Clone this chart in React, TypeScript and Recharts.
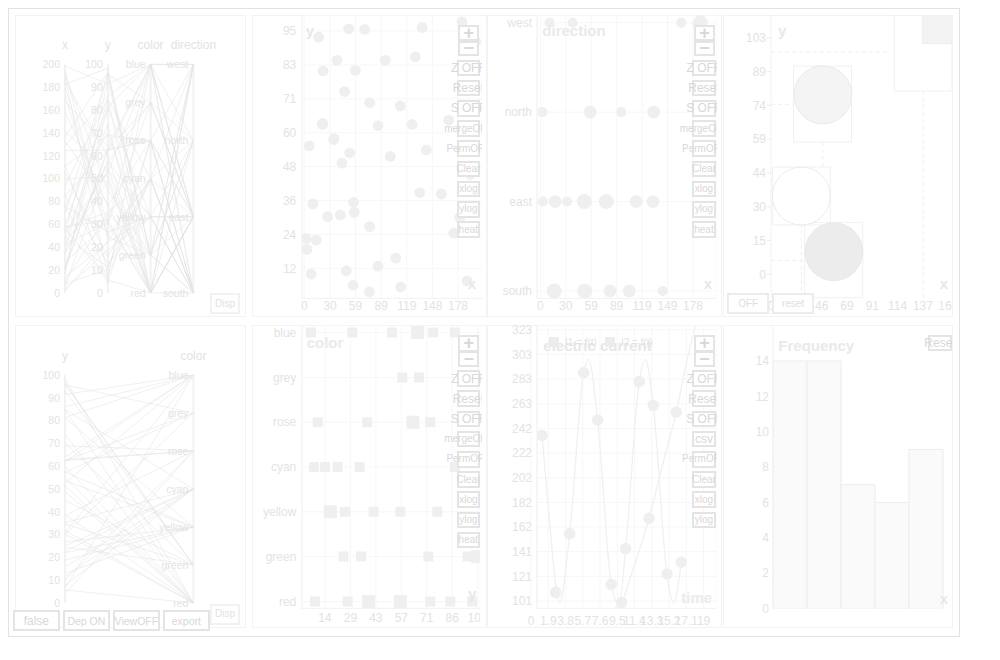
import React from "react";
import {
  Bar,
  CartesianGrid,
  ComposedChart,
  Line,
  LineChart,
  ReferenceArea,
  ReferenceDot,
  ReferenceLine,
  Scatter,
  ScatterChart,
  XAxis,
  YAxis,
  ZAxis,
} from "recharts";

const pointX = [
  182.6, 51.4, 69.9, 136.3, 16.6, 198.5, 37.8, 93.8, 128.6, 21.6, 59.1, 46.7, 75.7, 111.2, 21.2, 85.3, 124.7,
  167.2, 5.8, 34.0, 52.5, 141.3, 99.6, 43.6, 133.6, 158.7, 10.0, 57.1, 57.9, 41.7, 27.0, 75.7, 173.0, 2.3, 13.9,
  3.1, 105.8, 85.3, 8.1, 48.6, 188.4, 56.4, 111.6, 75.3, 185, 192, 180, 195, 21.0, 34.5,
];
const pointY = [
  98.3, 95.9, 95.7, 96.4, 93.0, 91.5, 84.9, 84.9, 86.1, 81.2, 81.4, 74.0, 70.1, 69.0, 62.9, 62.1, 62.5, 64.0, 55.0,
  57.2, 52.6, 53.6, 51.3, 49.0, 38.7, 38.2, 34.7, 35.3, 31.8, 30.9, 30.3, 26.8, 24.5, 22.7, 22.1, 18.8, 15.8, 13.0,
  10.2, 11.4, 7.8, 6.3, 5.7, 4.0, 60, 45, 30, 25, 62.5, 57.5,
];
const pointColor = [
  "red", "green", "grey", "green", "green", "blue", "red", "cyan", "blue", "yellow", "blue", "red", "green", "rose",
  "rose", "blue", "grey", "blue", "red", "grey", "blue", "yellow", "red", "red", "red", "rose", "green", "cyan",
  "red", "blue", "red", "yellow", "green", "cyan", "yellow", "yellow", "cyan", "yellow", "rose", "cyan", "cyan",
  "blue", "red", "rose", "red", "green", "grey", "cyan", "rose", "yellow",
];
const pointDirection = [
  "west", "south", "east", "north", "south", "west", "west", "north", "east", "east", "north", "east", "east", "east",
  "south", "south", "north", "west", "north", "east", "south", "south", "south", "east", "east", "south", "west",
  "south", "east", "east", "east", "south", "west", "east", "south", "north", "south", "east", "west", "south",
  "west", "east", "east", "east", "west", "north", "east", "south", "south", "east",
];

const colorNames = ["red", "green", "yellow", "cyan", "rose", "grey", "blue"];
const directionNames = ["south", "east", "north", "west"];

// x vs direction strip (count drives the dot size)
const dirX = [10.9, 37.8, 164.7, 186.9, 2.7, 58.4, 94.6, 132.4, 3.1, 17.5, 31.5, 51.4, 77.1, 112.1, 131.6, 16.3, 51.8, 81.4, 103.9, 142.9];
const dirName = [
  "west", "west", "west", "west", "north", "north", "north", "north", "east", "east", "east", "east", "east", "east",
  "east", "south", "south", "south", "south", "south",
];
const dirCount = [1, 1, 1, 3, 1, 2, 1, 2, 1, 2, 1, 3, 3, 2, 2, 3, 3, 2, 2, 1];

// y vs color strip
const colY = [
  6.4, 29.6, 51.9, 66.3, 74.9, 87.2, 57.7, 67.0, 10.2, 38.0, 63.7, 73.4, 8.1, 14.3, 21.4, 33.7, 87.2, 17.3, 25.5,
  41.6, 56.6, 77.3, 24.7, 34.5, 72.3, 94.3, 99.9, 8.7, 27.0, 38.8, 56.6, 73.4, 84.6, 96.8,
];
const colName = [
  "blue", "blue", "blue", "blue", "blue", "blue", "grey", "grey", "rose", "rose", "rose", "rose", "cyan", "cyan",
  "cyan", "cyan", "cyan", "yellow", "yellow", "yellow", "yellow", "yellow", "green", "green", "green", "green",
  "green", "red", "red", "red", "red", "red", "red", "red",
];
const colCount = [1, 1, 1, 2, 1, 1, 1, 1, 1, 1, 2, 1, 1, 1, 1, 1, 1, 2, 1, 1, 1, 1, 1, 1, 1, 1, 2, 1, 1, 2, 2, 1, 1, 1];

// electric current
const i1Time = [1.21, 1.9, 3.15, 4.26, 5.8, 6.34, 7.34, 8.84, 9.7, 10.42, 11.92, 12.58, 13.46, 14.97, 15.7, 16.54];
const i1Value = [236.7, 178, 99.6, 156.2, 288, 299, 249.3, 114.6, 98, 143.9, 280.7, 299, 261.3, 123.1, 99.6, 132.7];
const i2Time = [9.3, 9.98, 10.93, 12.99, 14.6, 15.99, 16.99, 18.09];
const i2Value = [95.5, 99.6, 120, 168.7, 215.7, 255.6, 292, 326];
const sampleTime = [1.21, 2.71, 4.26, 5.8, 7.34, 8.84, 9.98, 10.42, 11.92, 12.99, 13.46, 14.97, 15.99, 16.54];
const sampleValue = [236.7, 108.1, 156.2, 288, 249.3, 114.6, 99.6, 143.9, 280.7, 168.7, 261.3, 123.1, 255.6, 132.7];

// histogram of x
const binLabel = ["0-40", "40-80", "80-120", "120-160", "160-200"];
const binCount = [14, 14, 7, 6, 9];
const binEdges = [0, 40, 80, 120, 160, 200];

// bubble panel
const bubbleX = [46.8, 27.4, 56.7];
const bubbleY = [78.4, 34.2, 9.9];
const bubbleGroup = ["shaded", "open", "filled"];
const bubbleBoxes = [
  [20.4, 72.6, 57.8, 91.0],
  [1.3, 53.5, 21.6, 46.9],
  [30.3, 82.8, -10.2, 22.6],
  [111.3, 163.3, 80.1, 113.3],
];
const bubbleCorner = [136.8, 163.3, 100.8, 113.3];
const guideH = [
  [97.2, 0, 106.8],
  [74.3, 0, 20.4],
  [6.1, 0, 30.3],
];
const guideV = [
  [46.8, 46.9, 57.8],
  [137.4, -10.2, 80.1],
  [27.4, -10.2, 21.6],
];

// tick values
const scatterXTicks = [0, 29.66, 59.32, 88.98, 118.64, 148.3, 177.96];
const scatterYTicks = [12.2, 24.05, 35.9, 47.75, 59.6, 71.45, 83.3, 95.15];
const dirXTicks = [0, 29.72, 59.44, 89.16, 118.88, 148.6, 178.32];
const colXTicks = [14.29, 28.57, 42.86, 57.14, 71.43, 85.71, 100];
const bubbleXTicks = [0, 22.85, 45.7, 68.55, 91.4, 114.25, 137.1, 159.95];
const bubbleYTicks = [0, 14.77, 29.54, 44.31, 59.08, 73.85, 88.62, 103.39];
const timeTicks = [0, 1.9, 3.8, 5.7, 7.6, 9.5, 11.4, 13.3, 15.2, 17.1, 19];
const currentTicks = [100.95, 121.15, 141.35, 161.55, 181.75, 201.95, 222.15, 242.35, 262.55, 282.75, 302.95, 323.15];
const freqTicks = [0, 2, 4, 6, 8, 10, 12, 14];
const pcXTicks = [0, 20, 40, 60, 80, 100, 120, 140, 160, 180, 200];
const pcYTicks = [0, 10, 20, 30, 40, 50, 60, 70, 80, 90, 100];

const toolLabels = ["Z OFF", "Reset", "S OFF", "mergeOFF", "PermOFF", "Clear", "xlog", "ylog", "heat"];
const toolLabelsCurrent = ["Z OFF", "Reset", "S OFF", "csv", "PermOFF", "Clear", "xlog", "ylog"];
const bigTools = ["Z OFF", "Reset", "S OFF", "csv"];

// ---- styles ----
const FONT = '"Liberation Sans", Arial, Helvetica, sans-serif';
const TEXT = "#e3e3e3";
const TITLE = "#eaeaea";
const MARK = "#efefef";
const GRID = "#f7f7f7";
const AXIS = "#f2f2f2";
const BTN_LINE = "#e4e4e4";
const BTN_TEXT = "#d8d8d8";
const PC_LINE = "#e4e4e4";
const BUBBLE_FILL: Record<string, string> = { shaded: "#f4f4f4", open: "#ffffff", filled: "#ececec" };

const tick = { fill: TEXT, fontSize: 12, fontFamily: FONT };
const round = (v: number) => String(Math.round(v));
const M0 = { top: 0, right: 0, bottom: 0, left: 0 };

// fixed-radius dot for scatter marks
const dot = (r: number, fill: string) => (p: any) => <circle cx={p.cx} cy={p.cy} r={r} fill={fill} />;
const bubble = (p: any) => (
  <circle cx={p.cx} cy={p.cy} r={29} fill={BUBBLE_FILL[p.payload.g]} stroke="#e6e6e6" strokeWidth={0.8} />
);

// absolute box in page coordinates (root sits at 8,8)
function At({ x, y, w, h, style, children }: any) {
  return (
    <div style={{ position: "absolute", left: x - 8, top: y - 8, width: w, height: h, ...style }}>{children}</div>
  );
}

function Txt({ x, y, text, size = 15, bold = true, color = TITLE, left = false }: any) {
  return (
    <div
      style={{
        position: "absolute",
        left: x - 8,
        top: y - 8,
        transform: left ? "translate(0,-50%)" : "translate(-50%,-50%)",
        fontSize: size,
        fontWeight: bold ? 700 : 400,
        color,
        lineHeight: 1,
        whiteSpace: "nowrap",
      }}
    >
      {text}
    </div>
  );
}

function Btn({ l, t, w, h, text, size = 12, bold = false, line = BTN_LINE, color = BTN_TEXT }: any) {
  return (
    <div
      style={{
        position: "absolute",
        left: l,
        top: t,
        width: w,
        height: h,
        boxSizing: "border-box",
        border: `2px solid ${line}`,
        background: "#fff",
        display: "flex",
        alignItems: "center",
        justifyContent: "center",
        whiteSpace: "nowrap",
        fontSize: size,
        fontWeight: bold ? 700 : 400,
        color,
        lineHeight: 1,
      }}
    >
      {text}
    </div>
  );
}

function Tools({ left, top, clip, labels }: { left: number; top: number; clip: number; labels: string[] }) {
  const wrapL = left - 30;
  return (
    <At x={wrapL} y={top} w={clip - wrapL} h={222} style={{ overflow: "hidden" }}>
      <Btn l={31.6} t={0} w={21} h={16.3} text="+" size={18} bold />
      <Btn l={31.6} t={16} w={21} h={15.6} text="−" size={18} bold />
      {labels.map((s, i) => (
        <Btn key={s} l={30} t={35 + i * 20.2} w={23.3} h={16.6} text={s} size={bigTools.includes(s) ? 12 : 10} />
      ))}
    </At>
  );
}

type PcAxis = { title: string; ticks: { v: number; label: string }[]; value: (i: number) => number };

function Parallel({ axes, top }: { axes: PcAxis[]; top: number }) {
  const rows = axes.map((a, d) => {
    const row: Record<string, number> = { d };
    pointX.forEach((_, i) => {
      row["r" + i] = a.value(i);
    });
    return row;
  });
  return (
    <LineChart width={230} height={300} data={rows} margin={{ top, right: 51.6, bottom: 22, left: 50 }}>
      <XAxis type="number" dataKey="d" domain={[0, axes.length - 1]} hide />
      <YAxis type="number" domain={[0, 1]} hide />
      {axes.map((a, d) => (
        <ReferenceLine key={"ax" + d} x={d} stroke={AXIS} strokeWidth={2} ifOverflow="visible" />
      ))}
      {pointX.map((_, i) => (
        <Line
          key={i}
          dataKey={"r" + i}
          type="linear"
          stroke={PC_LINE}
          strokeOpacity={0.7}
          strokeWidth={0.8}
          dot={false}
          activeDot={false}
          isAnimationActive={false}
        />
      ))}
      {axes.map((a, d) =>
        a.ticks.map((t) => (
          <ReferenceDot
            key={a.title + t.label}
            x={d}
            y={t.v}
            r={0}
            stroke="none"
            ifOverflow="visible"
            label={{ value: t.label, position: "left", offset: 5, fill: TEXT, fontSize: 10.5, fontFamily: FONT }}
          />
        )),
      )}
      {axes.map((a, d) => (
        <ReferenceDot
          key={"t" + a.title}
          x={d}
          y={1}
          r={0}
          stroke="none"
          ifOverflow="visible"
          label={{ value: a.title, position: "top", offset: 15.3, fill: TEXT, fontSize: 12, fontFamily: FONT }}
        />
      ))}
    </LineChart>
  );
}

export default function App() {
  const colorIdx = (i: number) => colorNames.indexOf(pointColor[i]) / 6;
  const dirIdx = (i: number) => directionNames.indexOf(pointDirection[i]) / 3;

  const pcTop: PcAxis[] = [
    { title: "x", ticks: pcXTicks.map((v) => ({ v: v / 200, label: String(v) })), value: (i) => pointX[i] / 200 },
    { title: "y", ticks: pcYTicks.map((v) => ({ v: v / 100, label: String(v) })), value: (i) => pointY[i] / 100 },
    { title: "color", ticks: colorNames.map((c, k) => ({ v: k / 6, label: c })), value: colorIdx },
    { title: "direction", ticks: directionNames.map((c, k) => ({ v: k / 3, label: c })), value: dirIdx },
  ];
  const pcBottom: PcAxis[] = [pcTop[1], pcTop[2]];

  const scatterData = pointX.map((x, i) => ({ x, y: pointY[i] }));
  const dirData = dirX.map((x, i) => ({ x, d: directionNames.indexOf(dirName[i]), n: dirCount[i] }));
  const colData = colY.map((x, i) => ({ x, c: colorNames.indexOf(colName[i]), n: colCount[i] }));
  const i1 = i1Time.map((t, i) => ({ t, v: i1Value[i] }));
  const i2 = i2Time.map((t, i) => ({ t, v: i2Value[i] }));
  const samples = sampleTime.map((t, i) => ({ t, v: sampleValue[i] }));
  const bins = binLabel.map((bin, i) => ({ bin, count: binCount[i] }));
  const bubbles = bubbleX.map((x, i) => ({ x, y: bubbleY[i], g: bubbleGroup[i] }));

  const frame = { border: "1px solid #f3f3f3", boxSizing: "border-box" as const };

  return (
    <div style={{ position: "relative", width: 952, height: 629, fontFamily: FONT, background: "#fff" }}>
      <div style={{ position: "absolute", inset: 0, border: "1px solid #e2e2e2" }} />

      {/* panel frames */}
      <At x={15} y={15} w={231} h={302} style={frame} />
      <At x={251.5} y={15} w={235.5} h={302} style={frame} />
      <At x={487} y={15} w={235} h={302} style={frame} />
      <At x={723} y={15} w={229.5} h={302} style={frame} />
      <At x={15} y={325} w={231} h={303} style={frame} />
      <At x={251.5} y={325} w={235.5} h={303} style={frame} />
      <At x={487} y={325} w={235} h={303} style={frame} />
      <At x={723} y={325} w={229.5} h={303} style={frame} />

      {/* 1: parallel coordinates */}
      <At x={15.3} y={15.3} w={230} h={300}>
        <Parallel axes={pcTop} top={49.4} />
      </At>
      <At x={209.7} y={293} w={30.6} h={21}>
        <Btn l={0} t={0} w={30.6} h={21} text="Disp" size={10} line="#f2f2f2" color="#e2e2e2" />
      </At>

      {/* 2: x vs y scatter */}
      <At x={251.7} y={15.3} w={230.3} h={300} style={{ overflow: "hidden" }}>
        <ScatterChart width={230.3} height={300} margin={M0}>
          <CartesianGrid stroke={GRID} />
          <XAxis
            type="number"
            dataKey="x"
            domain={[-2.66, 206.1]}
            allowDataOverflow
            ticks={scatterXTicks}
            interval={0}
            tickFormatter={round}
            height={16.6}
            tickSize={0}
            tickMargin={3.4}
            tickLine={false}
            axisLine={{ stroke: AXIS }}
            tick={tick}
          />
          <YAxis
            type="number"
            dataKey="y"
            domain={[1.72, 100.74]}
            allowDataOverflow
            ticks={scatterYTicks}
            interval={0}
            tickFormatter={round}
            width={50}
            tickSize={0}
            tickMargin={5.7}
            tickLine={false}
            axisLine={{ stroke: AXIS }}
            tick={tick}
          />
          <Scatter data={scatterData} shape={dot(5.4, MARK)} isAnimationActive={false} />
        </ScatterChart>
      </At>
      <Txt x={310} y={30} text="y" color="#e8e8e8" />
      <Txt x={472} y={282.7} text="x" color="#e8e8e8" />
      <Tools left={456.7} top={24.7} clip={482.3} labels={toolLabels} />

      {/* 3: x vs direction */}
      <At x={486.7} y={15.3} w={230} h={300} style={{ overflow: "hidden" }}>
        <ScatterChart width={230} height={300} margin={M0}>
          <CartesianGrid stroke={GRID} />
          <XAxis
            type="number"
            dataKey="x"
            domain={[-3.85, 206.4]}
            allowDataOverflow
            ticks={dirXTicks}
            interval={0}
            tickFormatter={round}
            height={16.6}
            tickSize={0}
            tickMargin={3.4}
            tickLine={false}
            axisLine={{ stroke: AXIS }}
            tick={tick}
          />
          <YAxis
            type="number"
            dataKey="d"
            domain={[-0.083, 3.086]}
            allowDataOverflow
            ticks={[0, 1, 2, 3]}
            interval={0}
            tickFormatter={(v: number) => directionNames[v]}
            width={50}
            tickSize={0}
            tickMargin={5}
            tickLine={false}
            axisLine={{ stroke: AXIS }}
            tick={tick}
          />
          <ZAxis type="number" dataKey="n" domain={[1, 3]} range={[79, 177]} />
          <Scatter data={dirData} fill={MARK} isAnimationActive={false} />
        </ScatterChart>
      </At>
      <Txt x={542.3} y={30} text="direction" left />
      <Txt x={708} y={282.7} text="x" color="#e8e8e8" />
      <Tools left={692.3} top={24.7} clip={717.3} labels={toolLabels} />

      {/* 4: bubbles */}
      <At x={723.3} y={15.3} w={229} h={300} style={{ overflow: "hidden" }}>
        <ScatterChart width={229} height={300} margin={M0}>
          <XAxis
            type="number"
            dataKey="x"
            domain={[0, 163.3]}
            allowDataOverflow
            ticks={bubbleXTicks}
            interval={0}
            tickFormatter={round}
            height={17.3}
            tickSize={0}
            tickMargin={4}
            tickLine={false}
            axisLine={false}
            tick={tick}
          />
          <YAxis
            type="number"
            dataKey="y"
            domain={[-10.2, 113.3]}
            allowDataOverflow
            ticks={bubbleYTicks}
            interval={0}
            tickFormatter={round}
            width={48}
            tickSize={4}
            tickMargin={1}
            tickLine={{ stroke: "#ececec" }}
            axisLine={{ stroke: AXIS }}
            tick={tick}
          />
          {bubbleBoxes.map((b, i) => (
            <ReferenceArea
              key={"b" + i}
              x1={b[0]}
              x2={b[1]}
              y1={b[2]}
              y2={b[3]}
              fill="none"
              stroke="#f1f1f1"
              ifOverflow="visible"
            />
          ))}
          <ReferenceArea
            x1={bubbleCorner[0]}
            x2={bubbleCorner[1]}
            y1={bubbleCorner[2]}
            y2={bubbleCorner[3]}
            fill="#f3f3f3"
            fillOpacity={1}
            stroke="#eeeeee"
            ifOverflow="visible"
          />
          {guideH.map((g, i) => (
            <ReferenceLine
              key={"h" + i}
              segment={[
                { x: g[1], y: g[0] },
                { x: g[2], y: g[0] },
              ]}
              stroke="#efefef"
              strokeDasharray="4 3"
              ifOverflow="visible"
            />
          ))}
          {guideV.map((g, i) => (
            <ReferenceLine
              key={"v" + i}
              segment={[
                { x: g[0], y: g[1] },
                { x: g[0], y: g[2] },
              ]}
              stroke="#efefef"
              strokeDasharray="4 3"
              ifOverflow="visible"
            />
          ))}
          <Scatter data={bubbles} shape={bubble} isAnimationActive={false} />
        </ScatterChart>
      </At>
      <Txt x={782.2} y={30} text="y" color="#e8e8e8" />
      <Txt x={943.8} y={282.7} text="x" color="#e8e8e8" />
      <At x={727.3} y={293} w={88} h={21}>
        <Btn l={0} t={0} w={41.7} h={21} text="OFF" size={10} line="#ececec" color="#e0e0e0" />
        <Btn l={45} t={0} w={41.4} h={21} text="reset" size={10} line="#ececec" color="#e0e0e0" />
      </At>

      {/* 5: parallel y / color */}
      <At x={15.3} y={325.3} w={230} h={300}>
        <Parallel axes={pcBottom} top={50} />
      </At>
      <At x={209.7} y={603.7} w={30.6} h={21}>
        <Btn l={0} t={0} w={30.6} h={21} text="Disp" size={10} line="#f2f2f2" color="#e2e2e2" />
      </At>
      <At x={13} y={610.3} w={200} h={21}>
        <Btn l={0} t={0} w={46.7} h={21} text="false" size={12} />
        <Btn l={50} t={0} w={46.7} h={21} text="Dep ON" size={10.5} />
        <Btn l={100} t={0} w={46.7} h={21} text="ViewOFF" size={10.5} />
        <Btn l={150} t={0} w={46.7} h={21} text="export" size={10.5} />
      </At>

      {/* 6: y vs color */}
      <At x={251.7} y={325.3} w={228.3} h={300} style={{ overflow: "hidden" }}>
        <ScatterChart width={228.3} height={300} margin={M0}>
          <CartesianGrid stroke={GRID} />
          <XAxis
            type="number"
            dataKey="x"
            domain={[1.4, 101.46]}
            allowDataOverflow
            ticks={colXTicks}
            interval={0}
            tickFormatter={round}
            height={16.6}
            tickSize={0}
            tickMargin={5.1}
            tickLine={false}
            axisLine={{ stroke: AXIS }}
            tick={tick}
          />
          <YAxis
            type="number"
            dataKey="c"
            domain={[-0.156, 6.17]}
            allowDataOverflow
            ticks={[0, 1, 2, 3, 4, 5, 6]}
            interval={0}
            tickFormatter={(v: number) => colorNames[v]}
            width={50}
            tickSize={0}
            tickMargin={5.7}
            tickLine={false}
            axisLine={{ stroke: AXIS }}
            tick={tick}
          />
          <ZAxis type="number" dataKey="n" domain={[1, 2]} range={[100, 169]} />
          <Scatter data={colData} shape="square" fill={MARK} isAnimationActive={false} />
        </ScatterChart>
      </At>
      <Txt x={306.7} y={342} text="color" left />
      <Txt x={472.2} y={593} text="y" color="#e8e8e8" />
      <Tools left={456.7} top={335.3} clip={482.3} labels={toolLabels} />

      {/* 7: electric current */}
      <At x={486.7} y={325.3} w={230} h={305} style={{ overflow: "hidden" }}>
        <ComposedChart width={230} height={305} margin={M0}>
          <CartesianGrid stroke={GRID} />
          <XAxis
            type="number"
            dataKey="t"
            domain={[0.66, 20.48]}
            allowDataOverflow
            ticks={timeTicks}
            interval={0}
            tickFormatter={(v: number) => String(v)}
            height={21.6}
            tickSize={0}
            tickMargin={7.8}
            tickLine={false}
            axisLine={{ stroke: AXIS }}
            tick={tick}
          />
          <YAxis
            type="number"
            dataKey="v"
            domain={[94.9, 327.1]}
            allowDataOverflow
            ticks={currentTicks}
            interval={0}
            tickFormatter={round}
            width={50}
            tickSize={0}
            tickMargin={5}
            tickLine={false}
            axisLine={{ stroke: AXIS }}
            tick={tick}
          />
          <Line
            data={i1}
            dataKey="v"
            name="I1 = f(t)"
            type="monotone"
            stroke="#f0f0f0"
            strokeWidth={1.3}
            dot={false}
            activeDot={false}
            isAnimationActive={false}
          />
          <Line
            data={i2}
            dataKey="v"
            name="I2 = f(t)"
            type="monotone"
            stroke="#f0f0f0"
            strokeWidth={1.3}
            dot={false}
            activeDot={false}
            isAnimationActive={false}
          />
          <Scatter data={samples} shape={dot(5.8, MARK)} isAnimationActive={false} />
        </ComposedChart>
      </At>
      <Txt x={543.3} y={345} text="electric current" color="#e7e7e7" left />
      <At x={549} y={336} w={120} h={12} style={{ display: "flex", alignItems: "center", fontSize: 10, color: TEXT }}>
        <span style={{ width: 10, height: 10, background: "#ececec", marginRight: 6 }} />
        <span style={{ marginRight: 8 }}>I1 = f(t)</span>
        <span style={{ width: 10, height: 10, background: "#ececec", marginRight: 6 }} />
        <span>I2 = f(t)</span>
      </At>
      <Txt x={696.7} y={597} text="time" color="#ebebeb" />
      <Tools left={692.3} top={335.3} clip={717.3} labels={toolLabelsCurrent} />

      {/* 8: histogram (bins on a hidden band axis, edges on a numeric axis) */}
      <At x={723.3} y={325.3} w={229} h={305} style={{ overflow: "hidden" }}>
        <ComposedChart width={229} height={305} data={bins} margin={M0} barCategoryGap={0} barGap={0}>
          <XAxis xAxisId="bins" type="category" dataKey="bin" hide padding={{ left: 0, right: 9 }} />
          <XAxis
            xAxisId="edges"
            type="number"
            domain={[0, 210.6]}
            allowDataOverflow
            ticks={binEdges}
            interval={0}
            height={21.6}
            tickSize={0}
            tickMargin={7.8}
            tickLine={false}
            axisLine={{ stroke: AXIS }}
            tick={tick}
          />
          <YAxis
            type="number"
            domain={[0, 16.04]}
            allowDataOverflow
            ticks={freqTicks}
            interval={0}
            width={50}
            tickSize={0}
            tickMargin={4}
            tickLine={false}
            axisLine={{ stroke: AXIS }}
            tick={tick}
          />
          <Bar xAxisId="bins" dataKey="count" fill="#fafafa" stroke="#ececec" isAnimationActive={false} />
        </ComposedChart>
      </At>
      <Txt x={778.3} y={345} text="Frequency" left />
      <Txt x={943.8} y={597.7} text="x" color="#e8e8e8" />
      <At x={905} y={334.7} w={47.3} h={17} style={{ overflow: "hidden" }}>
        <Btn l={23.3} t={0} w={23.4} h={16.6} text="Reset" size={12} />
      </At>
    </div>
  );
}
